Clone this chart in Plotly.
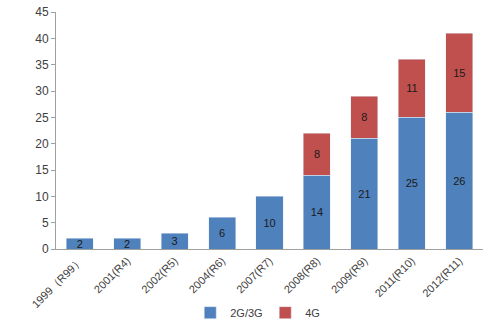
import plotly.graph_objects as go

categories = ["1999（R99）", "2001(R4)", "2002(R5)", "2004(R6)", "2007(R7)",
              "2008(R8)", "2009(R9)", "2011(R10)", "2012(R11)"]
g23 = [2, 2, 3, 6, 10, 14, 21, 25, 26]
g4 = [0, 0, 0, 0, 0, 8, 8, 11, 15]
y_ticks = [0, 5, 10, 15, 20, 25, 30, 35, 40, 45]

g4_text = [str(v) if v else "" for v in g4]

fig = go.Figure()
fig.add_trace(go.Bar(
    x=categories, y=g23, name="2G/3G", marker_color="#4F81BD",
    text=[str(v) for v in g23], textposition="inside", insidetextanchor="middle",
    textangle=0, constraintext="none",
    textfont=dict(color="#1a1a1a", size=11),
))
fig.add_trace(go.Bar(
    x=categories, y=[v if v else None for v in g4], name="4G", marker_color="#C0504D",
    text=g4_text, textposition="inside", insidetextanchor="middle",
    textangle=0, constraintext="none",
    textfont=dict(color="#1a1a1a", size=11),
))

fig.update_layout(
    barmode="stack",
    bargap=0.43,
    width=500, height=324,
    margin=dict(l=56, r=17, t=12, b=75, autoexpand=False),
    paper_bgcolor="white", plot_bgcolor="white",
    font=dict(family="Liberation Sans, Arial, sans-serif", color="#404040", size=11),
    uniformtext=dict(minsize=11, mode="show"),
    showlegend=True,
    legend=dict(orientation="h", x=0.49, xanchor="center",
                yref="container", y=0.035, yanchor="middle",
                bgcolor="rgba(0,0,0,0)",
                font=dict(size=11), itemwidth=30, entrywidth=30, traceorder="normal"),
    xaxis=dict(
        tickangle=-45, showline=True, linecolor="#A0A0A0", linewidth=1,
        ticks="", tickfont=dict(size=11, color="#404040"), showgrid=False,
    ),
    yaxis=dict(
        range=[0, 45], tickvals=y_ticks, showline=True, linecolor="#A0A0A0", linewidth=1,
        ticks="outside", ticklen=4, tickcolor="#A0A0A0", showgrid=False, zeroline=False,
        tickfont=dict(size=12, color="#404040"),
    ),
)

fig.write_html("out.html")
